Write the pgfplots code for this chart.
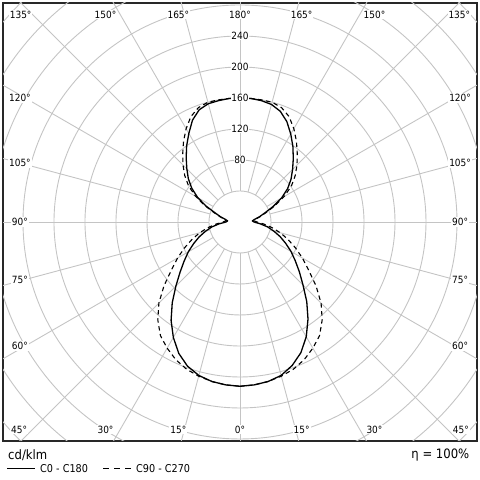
\documentclass[border=0pt]{standalone}
\usepackage{fontspec}
\setmainfont{DejaVu Sans Condensed}
\usepackage{pgfplots}
\pgfplotsset{compat=1.18}
\definecolor{gridc}{RGB}{196,196,196}
\definecolor{framec}{RGB}{40,40,40}
\begin{document}
\begin{tikzpicture}
\begin{axis}[
  name=ax, at={(0,0)}, anchor=south west,
  x=0.775bp, y=0.775bp,
  xmin=-305.8, xmax=305.8, ymin=-282.6, ymax=282.6,
  xtick=\empty, ytick=\empty,
  axis line style={framec, line width=1.3bp},
  clip=true,
]
% grid circles
\pgfplotsinvokeforeach{40,80,120,160,200,240,280,320,360,400,440}{
  \draw[gridc, line width=0.9bp] (axis cs:0,0) circle[radius={#1*0.775bp}];
}
% radial lines
\pgfplotsinvokeforeach{0,15,...,345}{
  \draw[gridc, line width=0.9bp] (axis cs:{40*cos(#1)},{40*sin(#1)}) -- (axis cs:{460*cos(#1)},{460*sin(#1)});
}
% C90 - C270 (dashed)
\addplot[data cs=polar, black, line width=1.1bp, dash pattern=on 4.5bp off 3.5bp, line join=round] coordinates {
(-90,212) (-85,211) (-80,209) (-75,206) (-70,202) (-65,196) (-60,188) (-55,179) (-50,165) (-45,148) (-40,128) (-35,108) (-30,93) (-25,79) (-20,66) (-15,54) (-10,42) (-5,31) (0,22) (5,18) (10,20) (15,27) (20,36) (25,50) (30,66) (35,81) (40,93) (45,104) (50,115) (55,127) (60,139) (65,150) (70,157) (75,160) (80,160) (85,160) (90,160)
(95,160) (100,160) (105,160) (110,157) (115,150) (120,139) (125,127) (130,115) (135,104) (140,93) (145,81) (150,66) (155,50) (160,36) (165,27) (170,20) (175,18) (180,22) (185,31) (190,42) (195,54) (200,66) (205,79) (210,93) (215,108) (220,128) (225,148) (230,165) (235,179) (240,188) (245,196) (250,202) (255,206) (260,209) (265,211) (270,212)
};
% C0 - C180 (solid)
\addplot[data cs=polar, black, line width=1.3bp, line join=round] coordinates {
(-90,212) (-85,211) (-80,209) (-75,205) (-70,197) (-65,186) (-60,171) (-55,153) (-50,134) (-45,115) (-40,100) (-35,87) (-30,76) (-25,65) (-20,55) (-15,45) (-10,36) (-5,26) (0,18) (5,16) (10,19) (15,26) (20,34) (25,47) (30,62) (35,75) (40,86) (45,96) (50,107) (55,119) (60,131) (65,143) (70,152) (75,157) (80,159) (85,160) (90,160)
(95,160) (100,159) (105,158) (110,154) (115,145) (120,132) (125,120) (130,108) (135,97) (140,87) (145,76) (150,63) (155,48) (160,34) (165,26) (170,19) (175,16) (180,18) (185,27) (190,37) (195,46) (200,56) (205,66) (210,77) (215,88) (220,101) (225,117) (230,136) (235,155) (240,172) (245,187) (250,198) (255,205) (260,209) (265,211) (270,212)
};
% radial value labels
\foreach \v in {80,120,160,200,240}{
  \edef\tmp{\noexpand\node[fill=white, inner sep=0.6bp, font=\noexpand\fontsize{10}{12}\noexpand\selectfont] at (axis cs:0,\v) {\v};}
  \tmp
}
% angle labels
\pgfplotsset{every node/.append style={}}
\tikzset{al/.style={fill=white, inner sep=1bp, font=\fontsize{10}{12}\selectfont}}
\node[al] at (axis cs:-283,267.7) {135°};
\node[al] at (axis cs:-173.5,267.7) {150°};
\node[al] at (axis cs:-79.5,267.7) {165°};
\node[al] at (axis cs:0,267.7) {180°};
\node[al] at (axis cs:79.5,267.7) {165°};
\node[al] at (axis cs:173.5,267.7) {150°};
\node[al] at (axis cs:283,267.7) {135°};
\node[al] at (axis cs:-285,-267.7) {45°};
\node[al] at (axis cs:-173.5,-267.7) {30°};
\node[al] at (axis cs:-79.5,-267.7) {15°};
\node[al] at (axis cs:0,-267.7) {0°};
\node[al] at (axis cs:79.5,-267.7) {15°};
\node[al] at (axis cs:173.5,-267.7) {30°};
\node[al] at (axis cs:285,-267.7) {45°};
\node[al] at (axis cs:-284,160) {120°};
\node[al] at (axis cs:-284,76) {105°};
\node[al] at (axis cs:-284,0) {90°};
\node[al] at (axis cs:-284,-75) {75°};
\node[al] at (axis cs:-284,-160) {60°};
\node[al] at (axis cs:284,160) {120°};
\node[al] at (axis cs:284,76) {105°};
\node[al] at (axis cs:284,0) {90°};
\node[al] at (axis cs:284,-75) {75°};
\node[al] at (axis cs:284,-160) {60°};
\end{axis}
% bounding box 480x480
\path (-3bp,-39bp) rectangle (477bp,441bp);
\node[anchor=west, inner sep=0pt, font=\fontsize{13}{15}\selectfont] at (5bp,-14bp) {cd/klm};
\node[anchor=east, inner sep=0pt, font=\fontsize{13}{15}\selectfont] at (466.5bp,-14bp) {η = 100\%};
\draw[black, line width=1.2bp] (4bp,-27.3bp) -- (32bp,-27.3bp);
\node[anchor=west, inner sep=0pt, font=\fontsize{10.8}{13}\selectfont] at (37bp,-28bp) {C0 - C180};
\draw[black, line width=1.2bp, dash pattern=on 6bp off 5bp] (100bp,-27.3bp) -- (129bp,-27.3bp);
\node[anchor=west, inner sep=0pt, font=\fontsize{10.8}{13}\selectfont] at (133bp,-28bp) {C90 - C270};
\end{tikzpicture}
\end{document}
